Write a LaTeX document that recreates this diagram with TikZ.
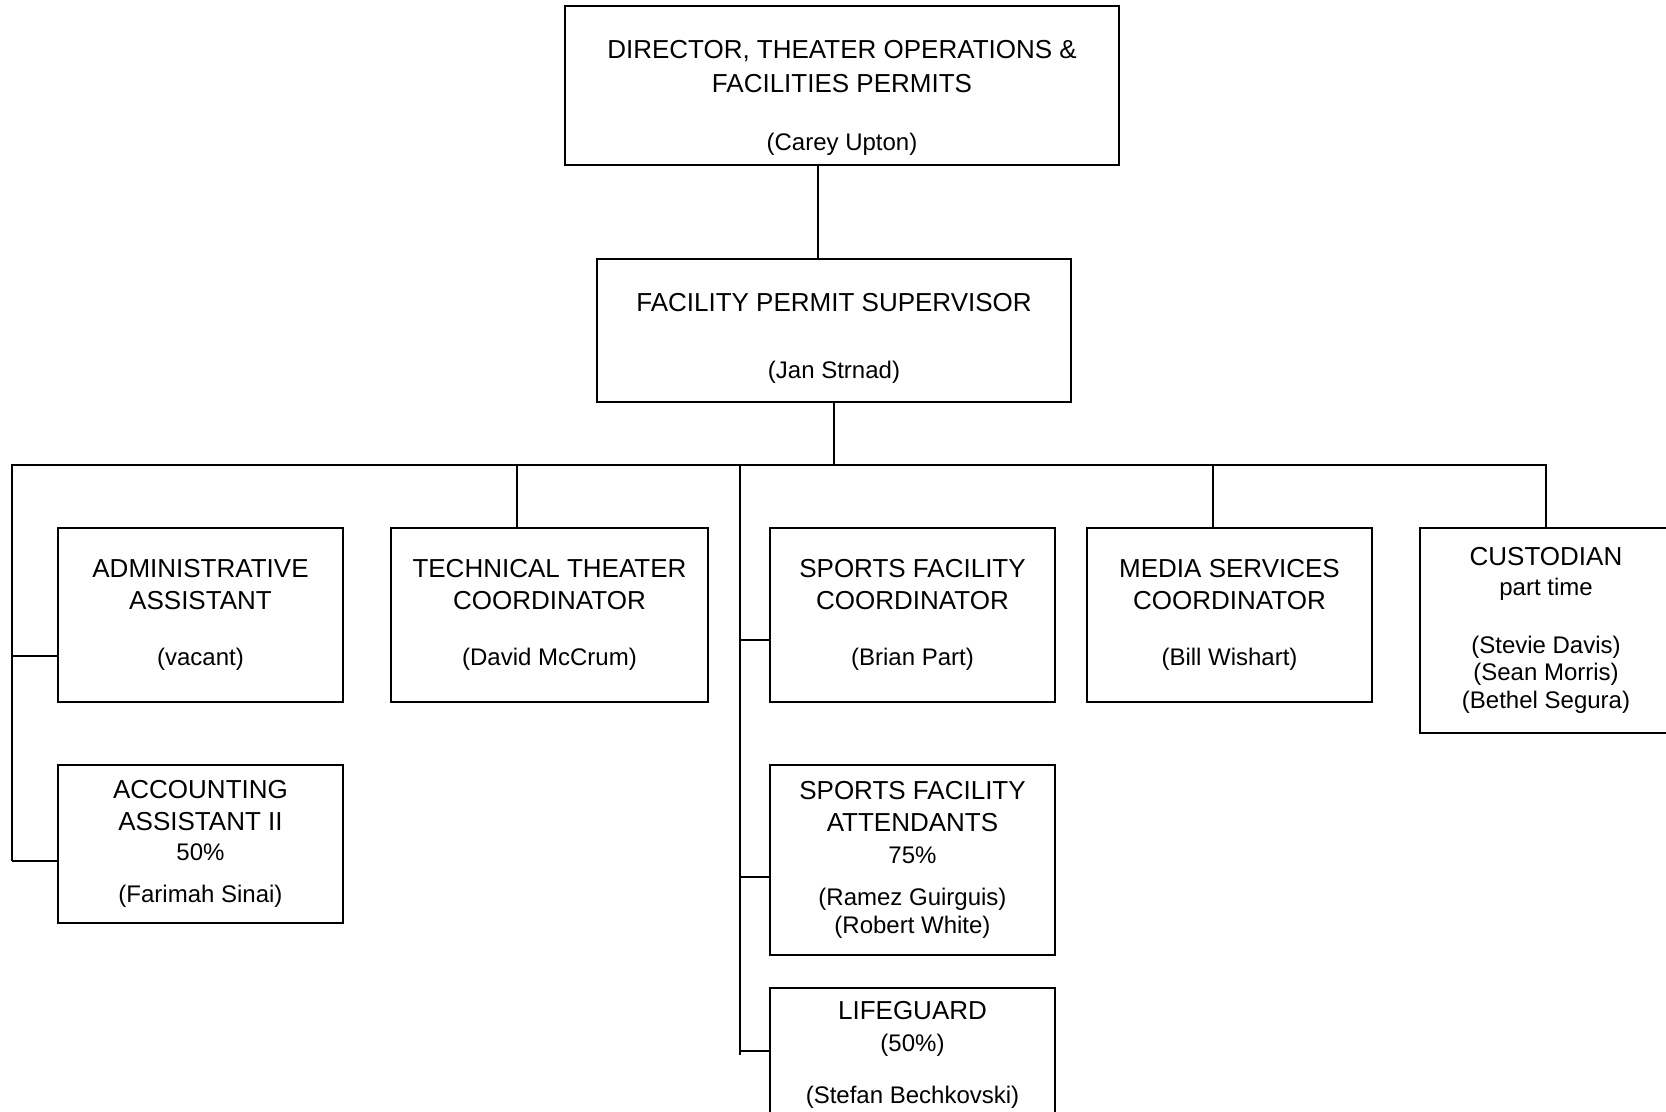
\documentclass[tikz,border=0pt]{standalone}
\usepackage{fontspec}
\setmainfont{Liberation Sans}
\usetikzlibrary{positioning}

\newcommand{\who}{\fontsize{12}{14}\selectfont}

\begin{document}
\begin{tikzpicture}[
    x=0.5pt, y=-0.5pt,
    post/.style={rectangle, draw, line width=1pt, outer sep=0pt, inner sep=2pt, align=center, font=\fontsize{13}{16}\selectfont},
    unit/.style={post, minimum width=142.5pt, minimum height=87pt},
    link/.style={line width=1pt}
]
\clip (0,0) rectangle (1666,1112);

% Top of the chart
\node[post, minimum width=277pt, minimum height=79.5pt] (director) at (842,85.5) {\rule{0pt}{21pt}DIRECTOR, THEATER OPERATIONS \&\\[1pt]FACILITIES PERMITS\\[13pt]{\who (Carey Upton)}};
\node[post, minimum width=237pt, minimum height=71.5pt] (supervisor) at (834,330.5) {\rule{0pt}{17pt}FACILITY PERMIT SUPERVISOR\\[17.5pt]{\who (Jan Strnad)}};

% First row of staff
\node[unit] (admin) at (200.5,615) {ADMINISTRATIVE\\ASSISTANT\\[12pt]{\who (vacant)}};
\node[unit, minimum width=158.5pt, right=24pt of admin] (tech) {TECHNICAL THEATER\\COORDINATOR\\[12pt]{\who (David McCrum)}};
\node[unit, right=31pt of tech] (sports) {SPORTS FACILITY\\COORDINATOR\\[12pt]{\who (Brian Part)}};
\node[unit, right=16pt of sports] (media) {MEDIA SERVICES\\COORDINATOR\\[12pt]{\who (Bill Wishart)}};
\node[post, minimum width=126.5pt, minimum height=102.5pt, right=23.75pt of media.north east, anchor=north west] (custodian) {CUSTODIAN\\[-1pt]{\who part time}\\[13pt]{\who (Stevie Davis)}\\[-2.7pt]{\who (Sean Morris)}\\[-1.7pt]{\who (Bethel Segura)}};

% Lower boxes
\node[unit, minimum height=79pt, below=31.5pt of admin] (acct) {ACCOUNTING\\ASSISTANT II\\[-1pt]{\who 50\%}\\[5pt]{\who (Farimah Sinai)}};
\node[unit, minimum height=95pt, below=31.5pt of sports] (attend) {SPORTS FACILITY\\ATTENDANTS\\{\who 75\%}\\[5pt]{\who (Ramez Guirguis)}\\[-2pt]{\who (Robert White)}};
\node[unit, minimum height=67pt, below=16.5pt of attend] (guard) {LIFEGUARD\\{\who (50\%)}\\[10pt]{\who (Stefan Bechkovski)}};

% Connector points
\coordinate (drop) at (818,200);
\coordinate (busL) at (12,465);
\coordinate (busR) at (1546,465);
\coordinate (trunkL) at (12,861);
\coordinate (toAdmin) at (12,655.6);
\coordinate (toTech) at (517.4,465);
\coordinate (toMedia) at (1213.4,465);
\coordinate (midTop) at (739.5,465);
\coordinate (midEnd) at (739.5,1055);
\coordinate (toSports) at (739.5,640);
\coordinate (toAttend) at (739.5,876.6);
\coordinate (toGuard) at (739.5,1051);

% Lines
\draw[link] (director.south -| drop) -- (supervisor.north -| drop);
\draw[link] (supervisor.south) -- (supervisor.south |- busL);
\draw[link] (trunkL) -- (busL) -- (busR) -- (custodian.north);
\draw[link] (toAdmin) -- (toAdmin -| admin.west);
\draw[link] (trunkL) -- (trunkL -| acct.west);
\draw[link] (toTech) -- (toTech |- tech.north);
\draw[link] (midTop) -- (midEnd);
\draw[link] (toSports) -- (toSports -| sports.west);
\draw[link] (toAttend) -- (toAttend -| attend.west);
\draw[link] (toGuard) -- (toGuard -| guard.west);
\draw[link] (toMedia) -- (toMedia |- media.north);

\end{tikzpicture}
\end{document}
